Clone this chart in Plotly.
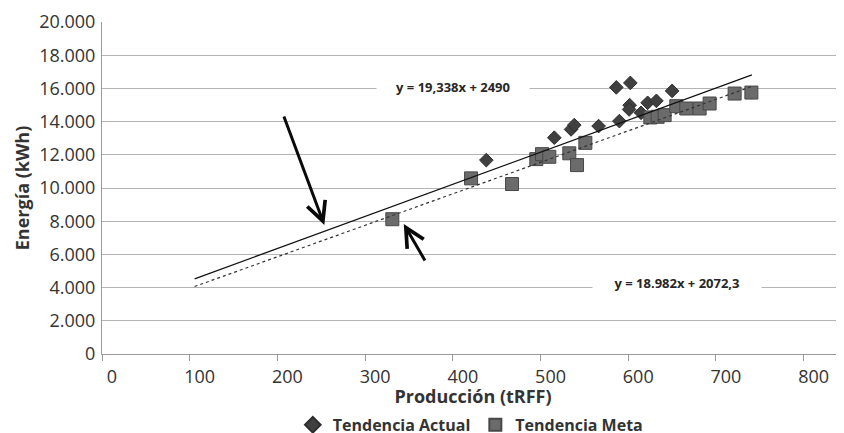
import plotly.graph_objects as go

# --- data ---
actual_x = [438.2, 515.7, 534.8, 538.5, 566.2, 589.9, 586.4, 602.4, 601.6, 601.0,
            614.6, 622.1, 632.1, 650.0]
actual_y = [11680, 13030, 13530, 13790, 13730, 14030, 16060, 16330, 14990, 14730,
            14530, 15130, 15250, 15850]

meta_x = [331.0, 420.8, 467.5, 495.2, 501.7, 510.0, 532.8, 541.6, 551.1, 625.2,
          633.5, 641.5, 654.8, 666.2, 681.4, 692.8, 721.3, 740.4]
meta_y = [8120, 10580, 10240, 11740, 12040, 11880, 12090, 11380, 12720, 14250,
          14290, 14390, 14930, 14790, 14790, 15090, 15690, 15750]

trend_actual_x = [105.6, 741]
trend_actual_y = [4530, 16820]
trend_meta_x = [105.6, 740]
trend_meta_y = [4065, 16100]

eq_actual = "y = 19,338x + 2490"
eq_meta = "y = 18.982x + 2072,3"

x_ticks = [0, 100, 200, 300, 400, 500, 600, 700, 800]

FONT = "Open Sans"
TXT = "#333333"

fig = go.Figure()
fig.add_trace(go.Scatter(
    x=actual_x, y=actual_y, mode="markers", name="Tendencia Actual",
    marker=dict(symbol="diamond", size=10.5, color="#404040",
                line=dict(color="#2e2e2e", width=1))))
fig.add_trace(go.Scatter(
    x=meta_x, y=meta_y, mode="markers", name="Tendencia Meta",
    marker=dict(symbol="square", size=13, color="#6b6b6b",
                line=dict(color="#484848", width=1))))
fig.add_trace(go.Scatter(
    x=trend_actual_x, y=trend_actual_y, mode="lines", showlegend=False,
    line=dict(color="#111111", width=1.3), hoverinfo="skip"))
fig.add_trace(go.Scatter(
    x=trend_meta_x, y=trend_meta_y, mode="lines", showlegend=False,
    line=dict(color="#333333", width=1.2, dash="3px,3px"), hoverinfo="skip"))

annotations = [
    dict(x=400.6, y=16090, xref="x", yref="y", text="<b>" + eq_actual + "</b>",
         showarrow=False, bgcolor="white", width=150, height=16,
         font=dict(family=FONT, size=13, color="#262626")),
    dict(x=655.5, y=4270, xref="x", yref="y", text="<b>" + eq_meta + "</b>",
         showarrow=False, bgcolor="white", width=166, height=16,
         font=dict(family=FONT, size=13, color="#262626")),
    dict(x=253.5, y=7775, xref="x", yref="y", text="", showarrow=True,
         ax=-41, ay=-110, arrowhead=5, arrowsize=1.25, arrowwidth=3,
         arrowcolor="#0a0a0a"),
    dict(x=344.1, y=7835, xref="x", yref="y", text="", showarrow=True,
         ax=22, ay=38, arrowhead=5, arrowsize=1.25, arrowwidth=3,
         arrowcolor="#0a0a0a"),
]

# the page body adds an 8px offset, so the figure is sized/placed to compensate
fig.update_layout(
    width=836, height=425,
    margin=dict(l=94, r=0, t=14, b=79, autoexpand=False),
    paper_bgcolor="white", plot_bgcolor="white",
    separators=",.",
    font=dict(family=FONT, color=TXT),
    showlegend=True,
    legend=dict(orientation="h", xref="container", yref="container",
                x=0.553, xanchor="center", y=0.019, yanchor="middle",
                font=dict(family=FONT, size=16, color=TXT, weight="bold"),
                itemsizing="constant", tracegroupgap=0,
                bgcolor="rgba(0,0,0,0)"),
    annotations=annotations,
)
fig.update_xaxes(
    range=[0, 846], tickvals=x_ticks, ticktext=[str(v) for v in x_ticks],
    automargin=False,
    showgrid=False, zeroline=False, showline=True, linecolor="#999999",
    linewidth=1, ticks="outside", ticklen=6, tickcolor="#999999",
    ticklabelshift=10, tickfont=dict(family=FONT, size=18, color=TXT),
    title=dict(text="<b>Producción (tRFF)</b>", standoff=20,
               font=dict(family=FONT, size=18, color=TXT)))
fig.update_yaxes(
    range=[0, 20000], dtick=2000, tickformat=",d", automargin=False,
    showgrid=True, gridcolor="#b3b3b3", gridwidth=1, zeroline=False,
    showline=True, linecolor="#999999", linewidth=1, ticks="",
    ticklabelstandoff=2,
    tickfont=dict(family=FONT, size=18, color=TXT),
    title=dict(text="<b>Energía (kWh)</b>", standoff=4,
               font=dict(family=FONT, size=18, color=TXT)))

fig.write_html("out.html")
